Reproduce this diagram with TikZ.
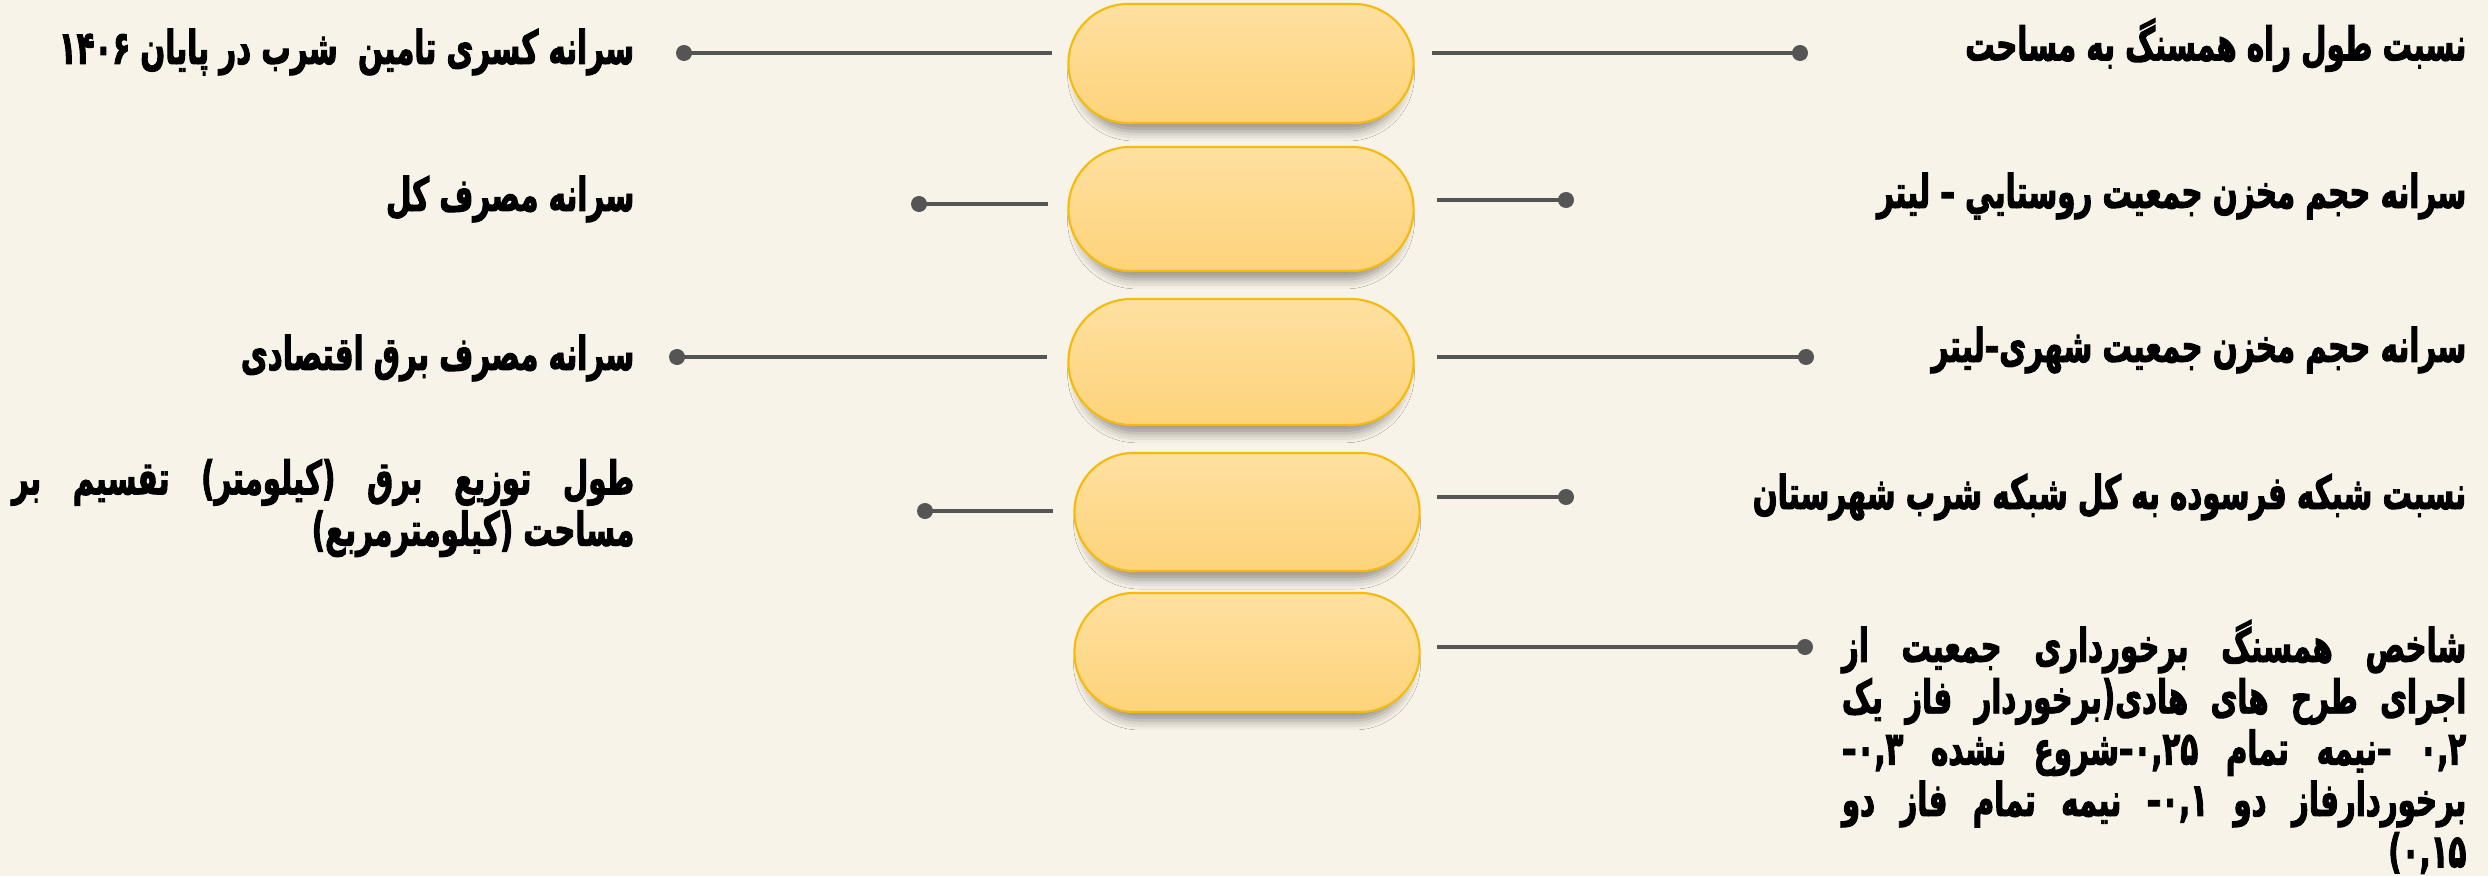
\documentclass[tikz,border=0pt]{standalone}
\usepackage{fontspec}
\usetikzlibrary{shapes.misc,shadows.blur}
\TeXXeTstate=1
\newfontfamily\fa[Script=Arabic, FakeStretch=0.63, BoldFeatures={FakeBold=2}]{DejaVu Sans}
\definecolor{bgc}{RGB}{248,243,233}
\definecolor{pilltop}{RGB}{254,224,160}
\definecolor{pillbot}{RGB}{254,211,122}
\definecolor{pillborder}{RGB}{246,186,10}
\definecolor{conncol}{RGB}{85,85,85}
\begin{document}
\begin{tikzpicture}[x=0.01cm,y=-0.01cm,
  pill/.style={rounded rectangle, draw=pillborder, line width=0.6pt,
    top color=pilltop, bottom color=pillbot, minimum width=3.45cm,
    inner sep=0pt,
    blur shadow={shadow xshift=0cm, shadow yshift=-0.12cm, shadow blur radius=0.1cm, shadow opacity=40, shadow scale=0.95}},
  conn/.style={draw=conncol, line width=1.2pt},
  dotc/.style={circle, fill=conncol, inner sep=0pt, minimum size=0.16cm},
  lbl/.style={font=\fa\bfseries\fontsize{13.2}{14.6}\selectfont, inner sep=0pt, text=black},
]
\fill[bgc] (0,0) rectangle (2488,876);
\useasboundingbox (0,0) rectangle (2488,876);

% pills
\node[pill, minimum height=1.19cm] (p1) at (1241,63.5) {};
\node[pill, minimum height=1.24cm] (p2) at (1241,209) {};
\node[pill, minimum height=1.26cm] (p3) at (1241,362) {};
\node[pill, minimum height=1.18cm] (p4) at (1247,512) {};
\node[pill, minimum height=1.19cm] (p5) at (1247,652.5) {};

% left connectors
\node[dotc] (dl1) at (684,53) {};
\coordinate (el1) at (1052,53);
\draw[conn] (dl1.center) -- (el1);
\node[dotc] (dl2) at (919,204) {};
\coordinate (el2) at (1048,204);
\draw[conn] (dl2.center) -- (el2);
\node[dotc] (dl3) at (677,357) {};
\coordinate (el3) at (1047,357);
\draw[conn] (dl3.center) -- (el3);
\node[dotc] (dl4) at (925,511) {};
\coordinate (el4) at (1053,511);
\draw[conn] (dl4.center) -- (el4);

% right connectors
\coordinate (er1) at (1432,53);
\node[dotc] (dr1) at (1800,53) {};
\draw[conn] (er1) -- (dr1.center);
\coordinate (er2) at (1437,200);
\node[dotc] (dr2) at (1566,200) {};
\draw[conn] (er2) -- (dr2.center);
\coordinate (er3) at (1437,357);
\node[dotc] (dr3) at (1806,357) {};
\draw[conn] (er3) -- (dr3.center);
\coordinate (er4) at (1437,497);
\node[dotc] (dr4) at (1566,497) {};
\draw[conn] (er4) -- (dr4.center);
\coordinate (er5) at (1437,647);
\node[dotc] (dr5) at (1805,647) {};
\draw[conn] (er5) -- (dr5.center);

% left labels
\node[lbl, anchor=east] (L1) at (635,52) {\beginR سرانه کسری تامین\ \ شرب در پایان ۱۴۰۶\endR};
\node[lbl, anchor=east] (L2) at (635,199) {\beginR سرانه مصرف کل\endR};
\node[lbl, anchor=east] (L3) at (635,358) {\beginR سرانه مصرف برق اقتصادی\endR};
\node[lbl, anchor=east, align=right] (L4) at (635,508) {\makebox[6.22cm][s]{\beginR طول توزیع برق (کیلومتر) تقسیم بر\endR}\\ \beginR مساحت (کیلومترمربع)\endR};

% right labels
\node[lbl, anchor=east] (R1) at (2467,45) {\beginR نسبت طول راه همسنگ به مساحت\endR};
\node[lbl, anchor=east] (R2) at (2467,196) {\beginR سرانه حجم مخزن جمعیت روستايي – لیتر\endR};
\node[lbl, anchor=east] (R3) at (2467,350) {\beginR سرانه حجم مخزن جمعیت شهری–لیتر\endR};
\node[lbl, anchor=east] (R4) at (2467,497) {\beginR نسبت شبکه فرسوده به کل شبکه شرب شهرستان\endR};
\node[lbl, anchor=north east, align=right] (R5) at (2467,619) {\makebox[6.24cm][s]{\beginR شاخص همسنگ برخورداری جمعیت از\endR}\\ \makebox[6.24cm][s]{\beginR اجرای طرح های هادی(برخوردار فاز یک\endR}\\ \makebox[6.24cm][s]{\beginR ۰,۲ –نیمه تمام ۰,۲۵–شروع نشده ۰,۳–\endR}\\ \makebox[6.24cm][s]{\beginR برخوردارفاز دو ۰,۱– نیمه تمام فاز دو\endR}\\ \beginR ۰,۱۵)\endR};
\end{tikzpicture}
\end{document}
